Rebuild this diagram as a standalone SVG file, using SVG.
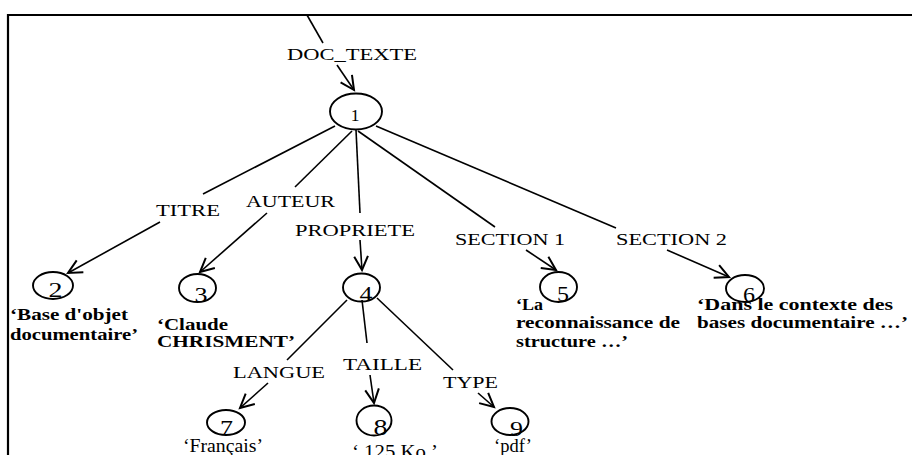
<svg xmlns="http://www.w3.org/2000/svg" width="912" height="455" viewBox="0 0 912 455">
<defs>
<style>
.edge{stroke:#000;stroke-width:1.6;fill:none}
.arr{marker-end:url(#ah)}
.node{fill:none;stroke:#000;stroke-width:1.9}
.lbl{font-family:"Liberation Serif","Times New Roman",serif;font-size:17.5px;fill:#000}
.num{font-family:"Liberation Serif","Times New Roman",serif;font-size:20px;fill:#000;text-anchor:middle}
.val{font-family:"Liberation Serif","Times New Roman",serif;font-size:16.5px;font-weight:bold;fill:#000}
.valn{font-family:"Liberation Serif","Times New Roman",serif;font-size:19px;fill:#000}
</style>
<marker id="ah" markerUnits="userSpaceOnUse" markerWidth="20" markerHeight="20" refX="0" refY="0" viewBox="-12 -8 14 16" orient="auto" overflow="visible">
<path d="M-11,-5.5 L0,0 L-11,5.5" fill="none" stroke="#000" stroke-width="1.6"/>
</marker>
</defs>
<rect width="912" height="455" fill="#fff"/>
<g id="frame">
<line x1="8" y1="15" x2="912" y2="15" stroke="#000" stroke-width="2.2"/>
<line x1="8" y1="14" x2="8" y2="455" stroke="#000" stroke-width="2.2"/>
</g>
<g id="connectors">
<line class="edge" x1="307" y1="15" x2="323" y2="43"/>
<line class="edge arr" x1="337" y1="65" x2="354" y2="90"/>
<line class="edge" x1="335" y1="126" x2="203" y2="194"/>
<line class="edge arr" x1="160" y1="222" x2="68" y2="273"/>
<line class="edge" x1="352" y1="131" x2="295" y2="187"/>
<line class="edge arr" x1="267" y1="213" x2="200" y2="272"/>
<line class="edge" x1="356" y1="130" x2="360" y2="213"/>
<line class="edge arr" x1="360" y1="240" x2="362" y2="270"/>
<line class="edge" x1="358" y1="131" x2="495" y2="227"/>
<line class="edge arr" x1="526" y1="250" x2="556" y2="270"/>
<line class="edge" x1="376" y1="126" x2="616" y2="228"/>
<line class="edge arr" x1="667" y1="250" x2="729" y2="277"/>
<line class="edge" x1="347" y1="300" x2="287" y2="360"/>
<line class="edge arr" x1="268" y1="383" x2="240" y2="408"/>
<line class="edge" x1="362" y1="300" x2="367" y2="343"/>
<line class="edge arr" x1="370" y1="375" x2="374" y2="403"/>
<line class="edge" x1="377" y1="298" x2="453" y2="370"/>
<line class="edge arr" x1="478" y1="393" x2="494" y2="407"/>
<text class="lbl" x="287" y="60" textLength="130" lengthAdjust="spacingAndGlyphs">DOC_TEXTE</text>
<text class="lbl" x="156" y="216" textLength="64" lengthAdjust="spacingAndGlyphs">TITRE</text>
<text class="lbl" x="246" y="207" textLength="89" lengthAdjust="spacingAndGlyphs">AUTEUR</text>
<text class="lbl" x="295" y="236" textLength="120" lengthAdjust="spacingAndGlyphs">PROPRIETE</text>
<text class="lbl" x="455" y="245" textLength="110" lengthAdjust="spacingAndGlyphs">SECTION 1</text>
<text class="lbl" x="616" y="245" textLength="111" lengthAdjust="spacingAndGlyphs">SECTION 2</text>
<text class="lbl" x="233" y="378" textLength="92" lengthAdjust="spacingAndGlyphs">LANGUE</text>
<text class="lbl" x="343" y="370" textLength="79" lengthAdjust="spacingAndGlyphs">TAILLE</text>
<text class="lbl" x="443" y="388" textLength="55" lengthAdjust="spacingAndGlyphs">TYPE</text>
</g>
<g id="n1">
<ellipse class="node" cx="356" cy="111.5" rx="26" ry="18"/>
<text class="num" x="355" y="121" style="font-size:17.5px">1</text>
</g>
<g id="n2">
<ellipse class="node" cx="53" cy="285.5" rx="20" ry="13.5"/>
<text class="num" x="55.5" y="297" textLength="14" lengthAdjust="spacingAndGlyphs">2</text>
<text class="val" x="10" y="320" textLength="118" lengthAdjust="spacingAndGlyphs">‘Base d'objet</text>
<text class="val" x="10" y="340" textLength="128" lengthAdjust="spacingAndGlyphs">documentaire’</text>
</g>
<g id="n3">
<ellipse class="node" cx="197.5" cy="288" rx="18.5" ry="14"/>
<text class="num" x="201" y="302" textLength="13" lengthAdjust="spacingAndGlyphs">3</text>
<text class="val" x="157" y="330" textLength="71" lengthAdjust="spacingAndGlyphs">‘Claude</text>
<text class="val" x="157" y="347" textLength="138" lengthAdjust="spacingAndGlyphs">CHRISMENT’</text>
</g>
<g id="n4">
<ellipse class="node" cx="361.5" cy="287.5" rx="18.5" ry="14"/>
<text class="num" x="366" y="301" textLength="13" lengthAdjust="spacingAndGlyphs">4</text>
</g>
<g id="n5">
<ellipse class="node" cx="558.5" cy="287" rx="18.5" ry="15"/>
<text class="num" x="563" y="301" textLength="12" lengthAdjust="spacingAndGlyphs">5</text>
<text class="val" x="516" y="310" textLength="27" lengthAdjust="spacingAndGlyphs">‘La</text>
<text class="val" x="516" y="328" textLength="164" lengthAdjust="spacingAndGlyphs">reconnaissance de</text>
<text class="val" x="516" y="347" textLength="112" lengthAdjust="spacingAndGlyphs">structure …’</text>
</g>
<g id="n6">
<ellipse class="node" cx="745" cy="288.5" rx="19" ry="13.5"/>
<text class="num" x="749" y="302" textLength="12" lengthAdjust="spacingAndGlyphs">6</text>
<text class="val" x="697" y="310" textLength="196" lengthAdjust="spacingAndGlyphs">‘Dans le contexte des</text>
<text class="val" x="697" y="328" textLength="211" lengthAdjust="spacingAndGlyphs">bases documentaire …’</text>
</g>
<g id="n7">
<ellipse class="node" cx="226" cy="422.5" rx="19" ry="12.5"/>
<text class="num" x="226.5" y="435" style="font-size:22px" textLength="13" lengthAdjust="spacingAndGlyphs">7</text>
<text class="valn" x="183" y="452" textLength="80" lengthAdjust="spacingAndGlyphs">‘Français’</text>
</g>
<g id="n8">
<ellipse class="node" cx="374" cy="420.5" rx="17.5" ry="15"/>
<text class="num" x="380.5" y="435" style="font-size:23px" textLength="14" lengthAdjust="spacingAndGlyphs">8</text>
<text class="valn" x="352" y="458" textLength="86" lengthAdjust="spacingAndGlyphs">‘ 125 Ko ’</text>
</g>
<g id="n9">
<ellipse class="node" cx="510" cy="421.5" rx="18.5" ry="13.5"/>
<text class="num" x="516.5" y="436" style="font-size:22px" textLength="13" lengthAdjust="spacingAndGlyphs">9</text>
<text class="valn" x="494" y="452" textLength="38" lengthAdjust="spacingAndGlyphs">‘pdf’</text>
</g>
</svg>
